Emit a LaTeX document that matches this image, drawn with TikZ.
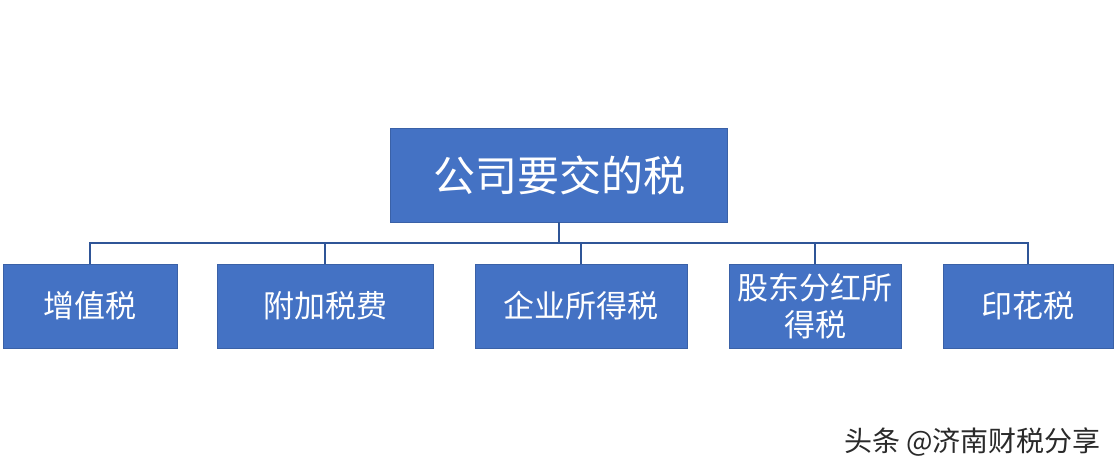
\documentclass[tikz,border=0pt]{standalone}
\usepackage{fontspec}
\setmainfont{Noto Sans CJK SC}
\definecolor{boxblue}{HTML}{4472C4}
\definecolor{lineblue}{HTML}{2F5597}
\definecolor{wm}{HTML}{2A2A2A}
\tikzset{
  taxbox/.style={fill=boxblue, draw=boxblue!85!black, line width=0.6pt, text=white, align=center, inner sep=0pt,
    font=\fontsize{31}{37}\selectfont},
  topbox/.style={taxbox, font=\fontsize{42}{50}\selectfont},
  link/.style={draw=lineblue, line width=2pt}
}
\begin{document}
\begin{tikzpicture}[x=1pt,y=-1pt]
\useasboundingbox (0,0) rectangle (1118,476);
\fill[white] (0,0) rectangle (1118,476);
\node[topbox, minimum width=337pt, minimum height=94pt] (top) at (559,175) {公司要交的税};
\node[taxbox, minimum width=174pt, minimum height=84pt] (zzs) at (90,306) {增值税};
\node[taxbox, minimum width=216pt, minimum height=84pt] (fj) at (325,306) {附加税费};
\node[taxbox, minimum width=212pt, minimum height=84pt] (qy) at (581,306) {企业所得税};
\node[taxbox, minimum width=172pt, minimum height=84pt] (gd) at (815,306) {股东分红所\\得税};
\node[taxbox, minimum width=170pt, minimum height=84pt] (yh) at (1028,306) {印花税};
\coordinate (bus) at (559,243);
\draw[link] (top.south) -- (bus);
\draw[link] (bus) -| (zzs.north);
\draw[link] (bus) -| (fj.north);
\draw[link] (bus) -| (qy.north);
\draw[link] (bus) -| (gd.north);
\draw[link] (bus) -| (yh.north);
\node[text=wm, font=\fontsize{28}{32}\selectfont, inner sep=0pt, anchor=east] (wmk) at (1101,442) {头条 @济南财税分享};
\end{tikzpicture}
\end{document}
